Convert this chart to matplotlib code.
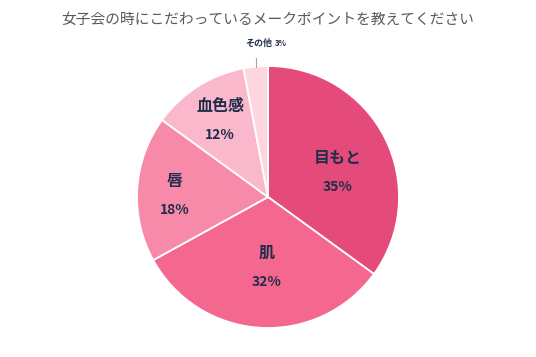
import matplotlib.pyplot as plt
import numpy as np

plt.rcParams['font.family'] = ['Noto Sans CJK JP', 'DejaVu Sans']

# data
labels = ["目もと", "肌", "唇", "血色感", "その他"]
values = [35, 32, 18, 12, 3]
colors = ["#e44a7a", "#f4678f", "#f68aa8", "#f9b8cb", "#fdd6e0"]
title = "女子会の時にこだわっているメークポイントを教えてください"

# where the inside labels sit (pie radius = 1)
label_pos = [(0.534, 0.187), (-0.012, -0.538), (-0.714, 0.012), (-0.366, 0.584)]
txt_col = "#1f2d4a"

fig = plt.figure(figsize=(5.36, 3.57), dpi=100)
fig.text(0.5, 1 - 20 / 357, title, ha="center", va="center",
         fontsize=10.6, color="#595959")

ax = fig.add_axes([(268 - 131) / 536, 1 - (197 + 131) / 357, 262 / 536, 262 / 357])
wedges, _ = ax.pie(values, colors=colors, startangle=90, counterclock=False,
                   radius=1, wedgeprops=dict(edgecolor="white", linewidth=1.3))
ax.set_xlim(-1, 1)
ax.set_ylim(-1, 1)
ax.set_aspect("equal")
ax.axis("off")

for i in range(4):
    x, y = label_pos[i]
    ax.text(x, y + 0.11, labels[i], ha="center", va="center", fontsize=11.5,
            fontweight="bold", color=txt_col)
    ax.text(x, y - 0.11, f"{values[i]}%", ha="center", va="center", fontsize=10,
            fontweight="bold", color=txt_col)

# small slice: label outside with a leader line
w = wedges[4]
mid = np.deg2rad((w.theta1 + w.theta2) / 2)
ex, ey = np.cos(mid), np.sin(mid)
ax.plot([ex, ex], [ey, ey + 0.065], color="#a6a6a6", lw=0.8, clip_on=False)
ax.text(0.03, 1.17, labels[4], ha="right", va="center", fontsize=6.5,
        fontweight="bold", color=txt_col, clip_on=False)
ax.text(0.05, 1.17, f"{values[4]}%", ha="left", va="center", fontsize=5.6,
        fontweight="bold", color=txt_col, clip_on=False)

fig.savefig("out.png", dpi=100)
